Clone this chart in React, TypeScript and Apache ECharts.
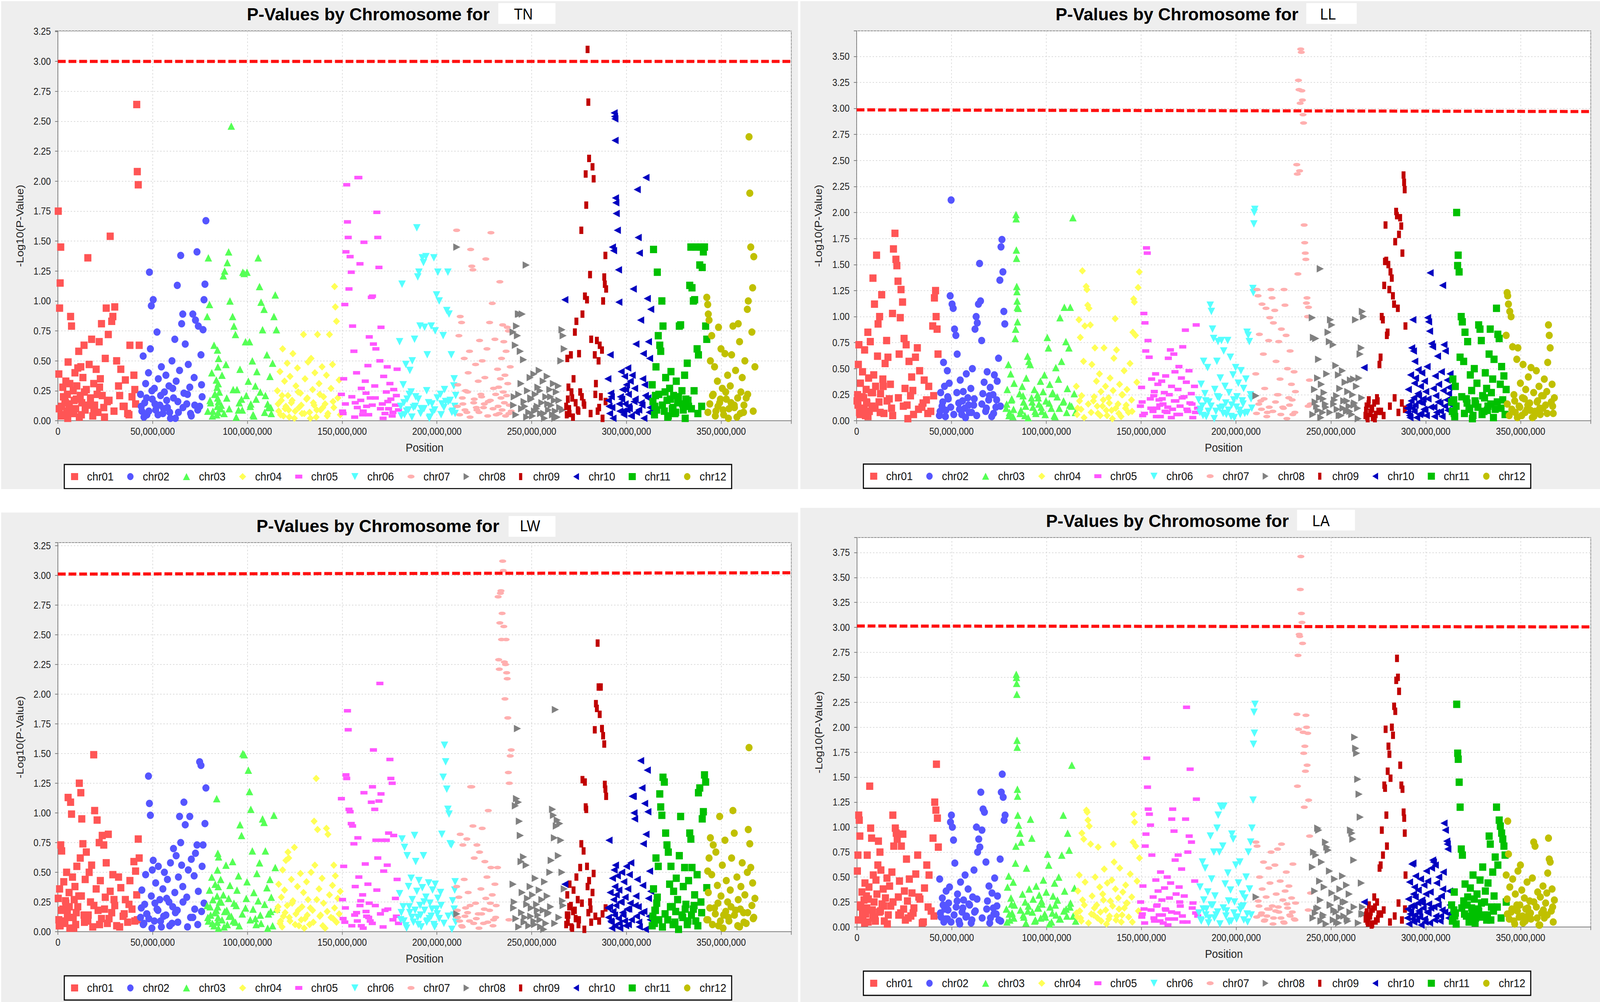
import React, { useEffect, useLayoutEffect, useRef, useState } from 'react';
import * as echarts from 'echarts';

// ---------- categories / styling tables ----------
const CHR_NAMES = ['chr01','chr02','chr03','chr04','chr05','chr06','chr07','chr08','chr09','chr10','chr11','chr12'];
const CHR_COLORS = ['#ff5555','#5555ff','#55ff55','#ffff55','#ff55ff','#55ffff','#ffafaf','#808080','#c00000','#0000c0','#00c000','#c0c000'];
const X_TICK_STEP = 50000000;
const Y_TICK_STEP = 0.25;
const X_MAX = 387000000;
const Y_MAX_TN = 3.255;
const Y_MAX_LL = 3.745;
const Y_MAX_LW = 3.276;
const Y_MAX_LA = 3.90;
// threshold line value at left and right end of the plot
const THR_TN = [3.0, 3.0];
const THR_LL = [2.986, 2.970];
const THR_LW = [3.011, 3.022];
const THR_LA = [3.014, 3.005];

// ---------- marker positions (Mb) per chromosome (signal markers, then background markers) ----------
const POS_CHR01 = [0.2,0.5,0.9,1.2,1.5,2.0,2.6,3.1,3.7,4.2,4.6,5.0,5.4,5.9,6.3,6.7,7.2,7.7,8.1,8.6,9.0,9.4,10.0,10.5,11.0,11.3,11.8,12.1,12.6,13.2,13.8,14.4,15.0,15.8,16.5,17.2,17.8,18.4,18.9,19.4,20.2,20.7,21.2,21.8,22.4,23.0,23.4,24.2,25.0,25.5,26.1,26.6,27.6,28.4,29.0,30.0,31.0,32.0,33.2,34.4,35.6,36.8,38.0,39.1,40.1,41.0,41.6,41.9,42.4,42.9,
  0.7,1.8,2.9,4.0,5.2,6.0,8.4,9.7,12.4,14.0,16.0,19.0,22.0,24.6,27.0,29.6,32.6,35.0,37.5,40.6];
const POS_CHR02 = [43.6,44.3,45.0,45.8,46.3,47.0,47.8,48.3,48.8,49.3,49.8,50.3,50.9,51.6,52.3,53.0,53.8,54.6,55.4,56.2,57.0,57.8,58.6,59.4,60.2,61.0,61.7,62.4,63.0,63.6,64.2,64.8,65.3,65.9,66.5,67.2,68.0,68.8,69.6,70.4,71.2,71.9,72.6,73.4,74.1,74.8,75.5,76.1,76.6,77.1,77.6,78.1,
  44.0,45.4,46.8,48.0,49.6,51.2,52.8,54.2,55.8,57.4,59.0,60.6,62.0,63.3,66.0,68.4,70.0,72.2,73.8,75.8];
const POS_CHR03 = [78.8,79.4,80.0,80.6,81.2,81.8,82.4,83.0,83.6,83.8,84.0,84.1,84.2,84.3,84.4,84.5,84.6,84.7,84.8,85.2,85.9,86.6,87.3,88.0,88.7,89.4,90.1,90.8,91.5,92.2,92.9,93.7,94.5,95.3,96.1,96.9,97.6,98.3,99.0,99.8,100.5,101.1,101.8,102.6,103.4,104.2,105.0,105.7,106.4,107.2,108.0,108.8,109.5,110.3,111.1,111.9,112.6,113.3,114.0,114.7,115.3,
  79.1,80.3,81.5,82.7,86.2,87.7,89.1,90.4,92.5,94.1,95.7,97.3,99.4,101.5,103.0,104.6,106.8,109.1,110.7,112.3];
const POS_CHR04 = [115.8,116.5,117.2,117.9,118.6,119.0,119.6,120.3,121.0,121.4,121.8,122.5,123.2,124.0,124.8,125.6,126.4,127.2,128.0,128.8,129.6,130.4,131.2,132.0,132.8,133.6,134.4,135.2,135.6,136.3,137.0,137.8,138.6,139.4,140.2,141.0,141.7,142.5,143.3,144.1,144.9,145.6,146.0,146.4,147.0,147.7,148.4,149.0,
  116.2,117.5,118.3,119.9,122.1,123.6,125.2,126.8,128.4,130.0,131.6,133.2,134.8,136.6,138.2,139.8,142.1,145.2];
const POS_CHR05 = [149.6,150.2,150.8,151.4,152.0,152.4,152.8,153.2,153.6,154.2,154.8,155.5,156.2,156.9,157.6,158.3,158.8,159.4,160.1,160.8,161.5,162.2,162.9,163.6,164.3,164.8,165.4,166.0,166.5,167.2,167.8,168.3,168.8,169.4,169.9,170.5,171.2,171.9,172.6,173.3,173.8,174.5,175.2,175.7,176.4,177.2,178.1,179.0,179.7,
  150.5,151.7,155.1,156.6,158.0,159.8,161.1,162.6,164.0,165.9,167.5,170.2,171.6,174.1,176.8,178.6];
const POS_CHR06 = [180.3,180.9,181.6,182.2,182.9,183.6,184.3,185.0,185.7,186.4,187.0,187.6,188.2,188.8,189.4,189.9,190.5,191.1,191.7,192.3,192.9,193.5,194.2,194.9,195.6,196.3,197.0,197.7,198.4,199.1,199.8,200.5,201.2,201.9,202.6,203.3,204.0,204.6,205.2,205.8,206.4,207.0,207.6,208.3,208.9,209.1,209.4,209.6,209.9,
  181.2,182.6,184.0,185.4,186.8,188.5,190.2,191.4,193.2,194.6,196.0,197.4,198.8,200.2,202.2,203.7,206.0,207.9];
const POS_CHR07 = [210.4,211.0,211.6,212.3,213.0,213.7,214.4,215.1,215.8,216.5,217.2,217.8,218.4,219.0,219.7,220.4,221.1,221.8,222.5,223.2,223.9,224.6,225.3,225.8,226.4,227.1,227.8,228.5,229.2,229.9,230.6,231.3,232.0,232.3,232.6,232.9,233.2,233.5,233.8,234.1,234.4,234.7,235.0,235.3,235.6,235.9,236.2,236.5,236.8,237.1,237.4,237.7,238.2,238.7,239.2,
  210.8,212.0,213.4,214.8,216.2,217.5,219.4,220.8,222.2,223.6,225.0,226.8,228.2,229.6,231.0,238.0];
const POS_CHR08 = [210.5,240.2,240.8,241.4,242.0,242.5,243.0,243.5,244.0,244.4,245.0,245.7,246.4,247.1,247.8,248.5,249.2,249.8,250.5,251.2,251.9,252.6,253.3,254.0,254.7,255.4,256.1,256.8,257.5,258.2,258.9,259.6,260.3,261.0,261.5,262.0,262.5,263.0,263.5,264.1,264.8,265.4,266.0,266.6,267.2,
  240.5,241.7,243.2,244.7,246.0,247.4,249.5,251.5,253.0,254.4,256.4,258.5,260.0,262.2,264.4,266.3];
const POS_CHR09 = [268.2,268.8,269.4,270.0,270.7,271.4,272.1,272.8,273.6,274.3,275.0,275.6,276.2,276.8,277.4,278.1,278.5,278.8,279.2,279.5,279.9,280.3,280.8,281.4,282.1,282.7,283.3,283.9,284.4,284.8,285.3,285.9,286.5,287.1,287.7,288.3,288.6,288.9,289.3,
  268.5,269.1,269.8,271.0,271.8,273.2,274.7,276.5,277.8,281.1,283.6,285.6,287.4,289.0];
const POS_CHR10 = [267.5,290.2,290.8,291.4,292.0,292.6,293.2,293.5,293.7,293.9,294.0,294.2,294.4,294.6,295.2,295.8,296.0,296.5,297.2,297.5,297.9,298.6,299.0,299.3,300.0,300.3,300.7,301.0,301.5,302.0,302.3,303.0,303.6,304.0,304.3,305.0,305.3,305.7,306.2,306.8,307.5,308.2,308.6,308.9,309.2,309.6,310.3,311.0,311.3,311.6,312.2,312.5,312.8,
  290.5,291.1,291.7,292.3,292.9,296.2,296.8,298.2,299.6,301.2,302.6,304.6,306.5,307.8,310.0,312.0];
const POS_CHR11 = [313.6,314.3,315.0,315.6,316.3,316.8,317.1,317.6,318.1,318.7,319.3,320.0,320.7,321.4,322.1,322.8,323.5,324.2,324.9,325.6,326.3,327.0,327.9,328.6,329.3,330.0,330.7,331.4,332.1,332.8,333.4,334.0,334.6,335.3,336.0,336.6,337.3,338.0,338.7,339.3,340.0,340.6,341.2,341.8,342.4,
  314.0,314.8,315.3,316.0,319.0,320.4,321.8,323.2,324.6,326.0,327.5,329.7,331.0,332.5,334.3,335.7,337.7,339.7];
const POS_CHR12 = [342.4,342.9,343.2,343.6,344.3,345.0,345.8,346.5,347.2,348.0,348.6,349.2,349.9,350.6,351.3,352.0,352.7,353.4,354.1,354.8,355.5,356.2,356.9,357.6,358.3,359.0,359.7,360.4,361.1,361.8,362.5,363.2,363.8,364.3,364.7,365.1,365.6,366.2,366.6,367.2,367.8,
  343.0,344.0,345.4,346.9,348.3,349.6,351.0,352.4,353.8,355.2,357.0,358.7,360.1,362.0,364.0,366.9];

// ---------- -log10(p) values, trait TN ----------
const TN_CHR01 = [1.75,.39,.94,1.15,1.45,.12,.28,.05,.18,.33,.08,.22,.49,.14,.31,.87,.79,.06,.25,.17,.40,.10,.29,.44,.58,.03,.21,.45,.15,.36,.63,.09,.26,1.36,.47,.19,.68,.04,.31,.13,.43,.22,.07,.66,.35,.81,.21,.11,.52,.94,.16,.72,1.54,.83,.87,.95,.50,.29,.43,.12,.34,.06,.63,.20,.38,.14,2.64,2.08,1.97,.63,
  .10,.04,.20,.15,.02,.11,.07,.18,.05,.24,.13,.09,.28,.03,.17,.08,.21,.12,.05,.26];
const TN_CHR02 = [.22,.08,.54,.15,.31,.05,.40,1.24,.60,.96,.18,1.01,.27,.09,.74,.35,.13,.45,.06,.24,.38,.11,.29,.02,.50,.19,.68,.33,1.13,.07,.42,1.38,.81,.89,.23,.64,.14,.47,.28,.04,.89,.36,.84,1.41,.79,.12,.55,.20,.76,1.01,1.14,1.67,
  .12,.03,.19,.08,.25,.14,.05,.21,.10,.17,.07,.27,.02,.16,.11,.22,.06,.13,.09,.30];
const TN_CHR03 = [.87,1.36,.97,.15,.40,.08,.63,.22,.34,.05,.28,.12,.59,.19,.45,.07,.31,.16,.52,.24,.10,.38,1.21,1.25,.47,1.32,1.41,1.00,2.46,.87,.79,.72,.26,.09,.43,.18,1.24,1.23,.66,1.24,.33,.66,.14,.50,.04,.29,.41,1.36,1.12,.99,.76,.93,.21,.55,.11,.37,.06,.48,.87,1.05,.76,
  .08,.17,.04,.22,.13,.06,.19,.10,.26,.03,.15,.09,.21,.12,.05,.18,.24,.07,.14,.11];
const TN_CHR04 = [.25,.08,.41,.17,.60,.04,.33,.12,.48,.21,.09,.37,.15,.56,.02,.29,.44,.11,.23,.06,.72,.35,.18,.49,.07,.52,.26,.13,.40,.03,.72,.31,.09,.45,.20,.14,.38,.06,.72,.27,.47,.11,1.12,.95,.83,.19,.34,.05,
  .14,.05,.21,.10,.03,.17,.08,.24,.13,.06,.19,.02,.15,.09,.22,.11,.04,.16];
const TN_CHR05 = [.22,.08,.35,.97,1.41,1.97,1.66,1.53,1.10,1.37,1.24,.79,.58,.15,.40,2.03,2.03,1.31,.27,.05,1.49,.33,.12,.46,.70,.19,1.03,1.04,.64,.29,.60,1.74,1.53,1.28,.50,.78,.14,.37,.06,.24,.45,.10,.31,.18,.04,.26,.13,.43,.09,
  .06,.14,.20,.03,.11,.17,.08,.23,.05,.13,.19,.10,.02,.16,.07,.21];
const TN_CHR06 = [.66,.12,1.14,.30,.05,.47,.18,.09,.42,.24,.50,.11,.68,.20,1.61,1.20,1.24,.79,.10,1.36,1.32,.78,1.37,.55,.15,.03,.79,.07,1.36,.75,1.05,1.24,1.00,.22,.14,.71,.26,.16,.92,1.24,.89,.17,.55,.08,.29,.35,.12,.06,.21,
  .04,.15,.08,.22,.03,.12,.18,.06,.10,.25,.02,.14,.09,.19,.05,.11,.16,.07];
const TN_CHR07 = [1.59,.30,.71,.87,.82,.14,.52,.25,.07,.40,.58,1.43,1.29,1.26,.18,.47,.09,.33,.67,.22,.50,.11,.36,1.35,.60,.16,.82,1.57,.98,.27,.68,.05,.43,.12,.28,.06,1.16,.35,.19,.52,.09,.80,.24,.66,.15,.38,.04,.58,.21,.78,.31,.75,.13,.45,.08,
  .12,.05,.19,.09,.24,.03,.15,.11,.07,.20,.14,.04,.17,.10,.22,.06];
const TN_CHR08 = [1.45,.74,.20,.63,.79,.71,.89,.89,.58,.31,.89,.51,.12,1.30,.25,.07,.36,.18,.04,.39,.22,.10,.28,.42,.06,.15,.33,.02,.20,.37,.09,.26,.13,.05,.31,.17,.08,.24,.03,.29,.11,.50,.76,.71,.60,
  .13,.05,.22,.10,.16,.03,.19,.08,.12,.25,.06,.14,.20,.02,.17,.09];
const TN_CHR09 = [.12,.52,.28,.06,.55,.19,.35,.74,.83,.09,.56,.24,1.59,.89,.15,1.04,2.06,1.80,1.01,3.10,2.66,2.19,1.22,.68,2.12,2.02,.55,.31,.67,.08,.50,.63,.20,.59,1.00,1.20,1.14,1.38,1.10,
  .05,.18,.10,.24,.03,.15,.08,.20,.13,.06,.22,.11,.02,.16];
const TN_CHR10 = [1.01,.35,.12,.55,.20,1.45,1.42,2.57,2.54,2.52,2.34,1.86,1.82,1.73,1.59,1.26,.99,.08,.41,.18,.26,.05,.37,.14,.30,.09,.44,.22,.10,.33,.04,.38,1.10,.16,.27,.64,.07,1.93,1.53,1.40,.84,.13,.35,.56,.02,.30,2.03,1.02,.19,.66,.52,.11,.93,
  .17,.06,.23,.11,.02,.14,.20,.08,.26,.12,.04,.18,.09,.15,.21,.07];
const TN_CHR11 = [.30,1.43,.12,.45,1.24,.71,.22,.63,.58,1.00,.79,.08,.36,.17,.04,.27,.41,.10,.21,.06,.33,.15,.79,.80,.25,.09,.38,.18,.48,.12,1.13,1.45,1.11,1.00,1.01,1.45,.60,.55,1.30,1.45,1.28,1.41,1.45,.79,.68,
  .16,.05,.21,.09,.13,.24,.03,.18,.11,.07,.20,.14,.02,.17,.10,.25,.06,.12];
const TN_CHR12 = [1.03,.97,.89,.84,.50,.71,.22,.45,.08,.33,.78,.15,.60,.27,.05,.56,.18,.38,.10,.29,.55,.79,.13,.42,.03,.81,.66,.24,.36,.07,.50,.19,.93,1.00,2.37,1.90,1.45,.74,1.11,1.37,.45,
  .07,.14,.21,.04,.12,.18,.09,.24,.02,.15,.11,.19,.06,.13,.22,.08];

// ---------- trait LL ----------
const LL_CHR01 = [.19,.25,.54,.73,.08,.36,.12,.47,.22,.68,.05,.30,.17,.85,.41,.09,.76,.27,.14,1.37,.44,1.12,.33,1.59,.62,.93,.18,1.00,.26,1.21,.40,.07,.55,.77,.61,.21,.35,.12,1.03,1.65,1.80,1.55,1.49,1.34,.64,.99,1.26,1.14,.79,.31,.73,.15,.57,.24,.42,.06,.61,.70,.48,.13,.39,.20,.33,.09,.91,1.18,1.25,1.00,.88,.64,
  .15,.06,.23,.10,.18,.04,.27,.12,.08,.33,.19,.05,.22,.14,.02,.29,.11,.17,.07,.24];
const LL_CHR02 = [.05,.27,.14,.56,.33,.10,.48,.21,.36,1.20,2.12,1.12,1.08,.88,.82,.64,.17,.39,.06,.28,.12,.45,.22,.08,.31,.50,.15,.88,1.00,.94,1.12,1.51,1.15,.77,.26,.37,.09,.47,.20,.32,.04,.25,.44,.13,.38,.60,1.35,1.67,1.74,1.43,1.05,.93,
  .09,.18,.04,.23,.13,.06,.27,.11,.19,.03,.15,.08,.21,.05,.16,.12,.24,.07,.20,.14];
const LL_CHR03 = [.12,.30,.54,.08,.45,.21,.04,.36,.79,.88,1.98,1.94,1.64,1.56,1.29,1.24,1.15,1.09,.95,1.08,.26,.10,.33,.18,.05,.41,.62,.57,.54,.22,.13,.30,.07,.25,.16,.38,.09,.28,.44,.19,.80,.70,.35,.12,.27,.05,.51,.23,.40,.99,.57,.18,1.09,.76,.31,.70,1.09,.14,1.95,.26,.08,
  .16,.05,.20,.11,.07,.24,.14,.03,.18,.09,.22,.13,.06,.17,.26,.04,.12,.19,.08,.15];
const LL_CHR04 = [.33,.12,.97,.80,.24,1.44,.57,.91,1.29,1.26,1.11,1.08,.92,.54,.19,.70,.38,.07,.45,.28,.14,.70,.33,.05,.22,.41,.10,.29,.60,.98,.68,.16,.35,.04,.25,.48,.12,.30,.08,.55,.20,.85,1.17,1.14,.82,.37,1.28,1.43,
  .06,.19,.11,.03,.16,.08,.23,.14,.05,.20,.10,.17,.02,.12,.07,.25,.15,.09];
const LL_CHR05 = [.14,.32,.05,1.03,.94,.67,1.66,1.61,.77,.61,.21,.40,.09,.28,.45,.12,.35,.20,.04,.38,.16,.27,.43,.08,.60,.25,.68,.33,.11,.64,.47,.19,.06,.30,.52,.14,.41,.71,.23,.87,.37,.09,.48,.17,.26,.03,.33,.92,.12,
  .18,.07,.12,.24,.04,.15,.21,.09,.13,.03,.19,.06,.22,.11,.16,.08];
const LL_CHR06 = [.20,.08,.35,.14,.57,.26,.04,.51,.18,1.11,1.05,.88,.79,.30,.09,.57,.76,.22,.41,.77,.13,.67,.33,.06,.77,.27,.61,.15,.44,.03,.51,.23,.36,.10,.48,.19,.31,.07,.40,.85,.82,.76,.25,.12,1.27,1.23,1.89,2.00,2.03,
  .11,.05,.19,.09,.14,.02,.23,.12,.07,.17,.10,.04,.20,.13,.06,.16,.08,.21];
const LL_CHR07 = [.45,1.26,1.20,.83,.19,1.12,.64,.31,1.08,.08,.77,.99,1.26,1.18,.94,1.06,.57,.25,.76,.40,.88,.13,1.26,1.11,.82,.50,.22,.67,.35,.06,.47,.28,2.46,2.37,1.41,3.27,3.18,2.40,3.05,3.57,3.54,3.17,3.08,2.94,2.86,1.88,1.71,1.61,1.55,1.13,1.18,1.00,1.09,.39,.16,
  .07,.16,.11,.21,.04,.13,.09,.18,.25,.06,.12,.02,.15,.20,.08,.14];
const LL_CHR08 = [.24,.99,.80,.30,.79,.14,.41,.59,.22,1.46,.35,.08,.27,.16,.45,.85,.76,.97,.92,.73,.20,.53,.11,.44,.31,.05,.48,.19,.37,.09,.28,.14,.39,.06,.25,.40,.17,.97,.33,.12,.41,.64,.70,1.05,1.00,
  .06,.18,.10,.03,.21,.13,.08,.16,.24,.05,.12,.19,.09,.15,.02,.22];
const LL_CHR09 = [.05,.14,.02,.20,.08,.11,.03,.17,.06,.22,.09,.54,.61,1.00,.97,1.30,1.53,1.88,1.54,.82,.85,1.50,1.26,1.43,1.37,1.20,1.12,1.72,2.01,1.97,1.08,1.79,1.95,1.87,1.61,2.36,2.29,2.22,.91,
  .10,.04,.16,.07,.12,.02,.19,.09,.05,.14,.22,.08,.17,.11];
const LL_CHR10 = [.51,.12,.30,.05,.44,.70,.97,.67,.22,.09,.36,.57,.15,.41,.03,.26,.49,.18,.33,.07,.46,.21,.11,.38,.28,.05,.52,.99,.95,.86,1.42,.74,.71,.31,.13,.43,.24,.08,.62,.35,.17,.47,.04,1.30,.29,.73,.67,.20,.39,.10,.32,.16,.45,
  .08,.15,.03,.19,.12,.24,.06,.17,.10,.21,.13,.04,.18,.09,.14,.26];
const LL_CHR11 = [.18,.40,.07,.33,2.00,1.49,1.59,1.43,.61,1.00,.95,.57,.85,.21,.76,.12,.44,.29,.05,.50,.16,.36,.92,.88,.77,.24,.09,.46,.31,.14,.64,.88,.27,.40,.59,.11,1.08,.83,.79,.35,.52,.20,.43,.06,.30,
  .09,.20,.04,.14,.23,.07,.17,.11,.02,.19,.13,.06,.22,.10,.16,.03,.18,.12];
const LL_CHR12 = [.82,1.23,1.20,1.12,1.05,1.00,.71,.25,.08,.59,.70,.14,.36,.05,.54,.21,.30,.11,.42,.17,.51,.03,.27,.09,.48,.19,.33,.06,.24,.12,.40,.15,.28,.56,.92,.82,.70,.18,.35,.07,.22,
  .16,.05,.11,.19,.03,.13,.22,.08,.15,.10,.04,.18,.12,.24,.07,.14];

// ---------- trait LW ----------
const LW_CHR01 = [.28,.10,.36,.05,.73,.68,.19,.42,.07,.24,.50,.15,1.13,.33,.03,1.09,.99,.46,.12,.27,.38,.06,.55,.21,.30,1.25,.62,1.17,.95,.74,.14,.44,.67,.09,.50,.25,.56,.04,1.49,1.02,.36,.94,.18,.75,.43,.11,.81,.73,.29,.58,.07,.82,.34,.16,.48,.22,.05,.46,.37,.13,.27,.08,.43,.19,.59,.51,.31,.10,.78,.62,
  .05,.18,.09,.26,.12,.21,.03,.16,.30,.08,.14,.22,.06,.19,.11,.27,.04,.15,.23,.09];
const LW_CHR02 = [.12,.35,.06,.23,.48,.15,1.31,1.08,.98,.30,.52,.60,.09,.41,.19,.55,.27,.04,.36,.50,.14,.44,.25,.58,.07,.70,.33,.64,.18,.46,.97,.75,.56,.38,1.09,.90,.29,.52,.97,.61,.12,.47,.66,.73,.34,1.43,1.40,.55,.73,.24,.91,1.21,
  .20,.07,.15,.11,.03,.24,.18,.09,.13,.28,.05,.21,.16,.08,.25,.04,.12,.19,.06,.17];
const LW_CHR03 = [.22,.09,.35,.14,.46,.27,.05,.40,.18,1.12,.30,.08,.52,.21,.66,.12,.38,.03,.63,.25,.44,.10,.31,.17,.56,.06,.28,.39,.13,.59,.24,.08,.35,.47,.90,.81,1.50,1.49,.20,.42,1.36,1.18,1.03,.68,.33,.11,.49,.26,.58,.07,.95,.92,.68,.37,.15,.44,.29,.05,.98,.54,.19,
  .12,.21,.07,.16,.25,.04,.18,.13,.09,.22,.05,.15,.28,.10,.19,.06,.14,.23,.03,.17];
const LW_CHR04 = [.18,.40,.07,.29,.52,.13,.35,.60,.22,.67,.62,.09,.44,.26,.71,.15,.38,.05,.49,.21,.33,.11,.42,.27,.06,.50,.18,.93,.56,1.29,.86,.36,.14,.45,.24,.03,.87,.82,.31,.12,.39,.56,.20,.47,.08,.28,.15,.34,
  .21,.09,.04,.16,.12,.24,.06,.18,.10,.03,.14,.20,.08,.27,.13,.05,.17,.11];
const LW_CHR05 = [1.12,.27,.55,.08,1.32,1.29,1.86,1.70,1.03,1.01,.91,.89,.74,.38,.16,.79,.46,.22,.05,.31,1.17,.57,.13,.40,.24,.09,1.09,1.22,1.53,1.03,.77,.35,.62,1.10,2.09,1.16,.77,.51,.18,.77,.56,.83,1.45,1.29,1.25,.81,.28,.44,.07,
  .11,.20,.05,.14,.09,.26,.03,.17,.12,.07,.22,.15,.04,.19,.10,.13];
const LW_CHR06 = [.32,.10,.78,.21,.71,.05,.64,.38,.16,.45,.27,.08,.81,.59,.34,.12,.43,.22,.04,.37,.64,.18,.29,.09,.41,.24,.13,.35,.06,.40,.19,.28,.11,.33,.82,1.30,1.57,1.43,1.20,1.03,.99,.74,.73,.26,.14,.19,.35,.42,.08,
  .16,.09,.03,.21,.12,.18,.06,.14,.25,.08,.11,.19,.04,.15,.22,.07,.13,.02];
const LW_CHR07 = [.38,.12,.29,.82,.05,.73,.44,.20,.78,.33,.09,1.22,1.22,.89,.62,.24,.73,.15,.67,.36,.87,.07,.59,.28,.46,1.02,.18,.54,.31,.10,.40,.22,.54,2.82,2.29,2.21,2.60,2.85,2.87,2.46,2.68,3.12,3.04,2.57,2.27,1.96,2.25,2.46,2.18,2.13,1.80,1.34,1.25,1.48,1.53,
  .18,.09,.04,.13,.16,.22,.07,.11,.03,.15,.19,.08,.24,.05,.12,.10];
const LW_CHR08 = [.15,.40,.25,1.06,1.12,1.71,1.09,.93,.81,.59,.33,.63,.12,.56,.28,.05,.38,.20,.31,.09,.45,.23,.14,.35,.04,.27,.18,.42,.07,.30,.16,.50,.60,1.03,.98,.79,1.87,.89,.94,.64,.91,.77,.50,.22,.36,
  .20,.11,.04,.16,.08,.23,.13,.06,.18,.10,.02,.15,.21,.07,.12,.26];
const LW_CHR09 = [.06,.31,.14,.40,.22,.03,.35,.18,.46,.27,.10,.54,.74,1.28,.68,1.26,1.05,1.03,.55,.38,.16,.43,.25,.08,.33,.49,1.70,1.92,1.88,2.43,2.06,1.83,2.06,1.71,1.65,1.58,1.24,1.20,1.14,
  .14,.08,.21,.04,.17,.11,.06,.24,.02,.19,.13,.09,.15,.20];
const LW_CHR10 = [.40,.20,.77,.33,.08,.45,.27,.52,.14,.38,.05,.56,.22,.31,.47,.11,.35,.03,.25,.50,.16,.42,.09,.29,.55,.19,.36,.06,.48,.24,.58,1.14,1.14,1.00,.95,.30,.13,.44,.21,.04,1.44,1.21,.39,.74,.17,1.08,.82,1.36,1.01,.28,.51,.10,.34,
  .12,.21,.09,.03,.17,.07,.25,.14,.05,.19,.10,.22,.08,.16,.02,.13];
const LW_CHR11 = [.05,.36,.18,.62,.29,.55,.10,1.16,1.05,.98,1.30,1.26,.83,.73,.67,.40,.55,.21,.34,.08,.45,.27,.64,.97,.14,.38,.54,.23,.06,.43,.83,.78,.54,.19,.31,.09,.48,1.17,1.21,.25,.95,1.01,1.32,1.26,.37,
  .13,.07,.18,.24,.04,.15,.10,.21,.06,.17,.02,.12,.19,.09,.14,.22,.05,.16];
const LW_CHR12 = [.10,.51,.33,.62,.79,.48,.73,.20,.67,.39,.05,.97,.30,.56,.14,.77,.43,.25,.09,.35,.62,1.02,.83,.18,.46,.27,.04,.38,.58,.16,.31,.07,.50,.86,1.55,.74,.54,.22,.41,.12,.28,
  .10,.20,.06,.15,.24,.09,.03,.17,.12,.21,.14,.05,.19,.08,.16,.11];

// ---------- trait LA ----------
const LA_CHR01 = [.56,.72,1.12,1.07,.91,.20,.35,.08,.27,.44,.13,.31,.72,.05,.40,1.41,.99,.89,.17,.52,.25,.09,.47,.33,.62,.86,.15,.75,.57,.23,.38,.06,.29,.49,.12,.41,.21,.55,1.12,.81,.99,.94,.88,.30,.46,.14,.81,.93,.36,.07,.68,.26,.48,.11,.34,.19,.53,.72,.28,.04,.39,.62,.52,.16,.89,1.25,1.17,1.63,1.09,.80,
  .07,.22,.13,.04,.19,.28,.10,.06,.16,.21,.03,.25,.12,.18,.09,.14,.30,.05,.20,.11];
const LA_CHR02 = [.48,.10,.29,.05,.18,.36,.08,.24,.40,1.05,1.12,1.00,.87,.64,.20,.33,.06,.45,.15,.27,.52,.11,.38,.22,.04,.30,.57,.16,1.00,.75,.88,.80,1.35,.97,1.18,1.15,.65,.26,.41,.09,.34,.19,.49,.13,.31,.07,.68,1.35,1.53,1.30,1.07,1.12,
  .14,.22,.08,.17,.05,.12,.26,.03,.19,.10,.23,.07,.15,.28,.09,.18,.04,.13,.21,.06];
const LA_CHR03 = [.18,.40,.51,.07,.29,.14,.45,.22,.64,.81,2.53,2.50,2.44,2.33,1.87,1.80,1.38,1.31,1.12,1.02,.94,.85,.33,.10,.25,.59,.16,.38,1.08,.89,.28,.06,.41,.19,.32,.09,.23,.47,.13,.35,.73,.62,.20,.05,.31,.44,.12,.27,.50,.08,.72,1.12,.36,.18,.94,.77,.24,1.62,.11,.39,.06,
  .05,.13,.23,.09,.17,.12,.04,.21,.15,.07,.19,.26,.10,.03,.14,.22,.08,.16,.11,.20];
const LA_CHR04 = [.14,.36,.52,.09,.94,.27,.88,.45,1.17,1.15,1.07,1.01,.83,.31,.12,.50,.22,.80,.40,.06,.33,.58,.17,.44,.08,.26,.47,.83,.65,.38,.11,.29,.59,.05,.35,.19,.42,.24,.10,.53,.30,.85,1.13,1.05,.81,.46,.16,.69,
  .10,.16,.06,.22,.04,.13,.19,.09,.15,.27,.03,.11,.21,.07,.18,.12,.24,.05];
const LA_CHR05 = [.25,.10,.41,.18,.81,.93,1.69,1.40,1.18,1.13,1.02,.72,.30,.06,.47,.22,.36,.12,.55,.27,.04,.39,.17,.50,.08,.29,.44,1.08,1.18,.96,.67,.33,.14,.72,.40,.21,.58,.05,.31,1.08,2.20,.75,.91,1.58,.85,.24,.46,1.28,.11,
  .13,.04,.17,.09,.21,.06,.12,.18,.02,.15,.08,.25,.11,.05,.19,.14];
const LA_CHR06 = [.14,.40,.06,.65,.27,.59,.18,.35,.09,.91,.48,.22,.75,.31,.12,.99,1.12,.75,1.21,1.20,.81,1.21,.43,.16,.54,.05,.37,.93,.88,.25,.62,.10,.44,.65,.20,.33,.07,.29,.50,.13,.75,.38,.85,.99,1.27,1.83,2.15,1.94,2.23,
  .07,.18,.12,.04,.22,.09,.15,.03,.19,.11,.26,.06,.14,.08,.17,.21,.05,.12];
const LA_CHR07 = [.85,.81,.26,.50,.12,.38,.65,.07,.30,.18,.59,.44,.75,.21,.09,.62,.33,.78,.15,.46,.83,.27,.04,.36,.55,.19,.41,.11,.29,.63,.08,.24,2.13,1.41,2.72,1.98,2.93,2.91,3.38,3.71,3.14,3.05,2.84,1.95,1.74,1.20,1.81,1.56,2.12,2.00,1.62,1.94,1.27,.91,.34,
  .10,.21,.14,.06,.11,.18,.03,.16,.20,.09,.05,.23,.12,.15,.07,.17];
const LA_CHR08 = [.30,.60,.75,.36,.72,.18,.99,.97,.46,.27,.65,.10,.40,.85,.80,.77,.56,.22,.34,.07,.48,.15,.29,.04,.38,.19,.51,.11,.25,.42,.06,.33,.97,.94,.88,.67,1.90,1.79,1.74,1.48,1.33,1.10,.44,.20,.13,
  .09,.14,.19,.06,.12,.03,.22,.17,.05,.10,.25,.08,.15,.20,.04,.13];
const LA_CHR09 = [.08,.15,.04,.22,.11,.02,.18,.30,.06,.25,.13,.59,.62,.97,.72,1.42,1.39,1.98,1.12,.81,1.56,1.81,1.73,1.49,2.00,1.92,2.21,2.16,2.47,2.69,2.50,2.36,1.62,1.42,1.38,1.15,1.09,.94,.52,
  .12,.06,.09,.15,.03,.20,.08,.13,.17,.05,.11,.24,.07,.18];
const LA_CHR10 = [.25,.09,.28,.45,.16,.63,.64,.33,.05,.21,.40,.12,.30,.51,.07,.24,.37,.14,.48,.02,.27,.19,.42,.08,.33,.56,.15,.46,.23,.04,.35,.59,.67,.65,.20,.62,.11,.44,.28,.50,.06,.31,.17,.38,.55,1.04,.97,.86,.83,.78,.13,.36,.22,
  .18,.03,.13,.21,.08,.16,.10,.24,.05,.14,.19,.07,.22,.11,.15,.09];
const LA_CHR11 = [.22,.08,.35,.14,2.23,1.74,1.68,1.45,1.20,.78,.72,.26,.43,.11,.30,.05,.39,.19,.52,.28,.09,.33,.16,.47,.24,.60,.12,.36,.07,.44,.91,.83,.20,.55,.31,.70,1.20,.62,1.07,1.01,.94,.88,.81,.72,.25,
  .06,.17,.11,.03,.19,.13,.22,.08,.15,.04,.18,.10,.25,.12,.07,.16,.20,.09];
const LA_CHR12 = [.52,.28,1.06,.73,.40,.15,.48,.06,.33,.22,.56,.10,.62,.37,.04,.29,.18,.45,.12,.26,.08,.49,.85,.81,.20,.35,.02,.30,.14,.41,.09,.24,.34,.54,.89,.68,.65,.16,.38,.05,.27,
  .13,.08,.18,.03,.16,.22,.11,.06,.19,.14,.25,.09,.02,.17,.12,.20];

const POSITIONS = [POS_CHR01,POS_CHR02,POS_CHR03,POS_CHR04,POS_CHR05,POS_CHR06,POS_CHR07,POS_CHR08,POS_CHR09,POS_CHR10,POS_CHR11,POS_CHR12];
const TN_VALUES = [TN_CHR01,TN_CHR02,TN_CHR03,TN_CHR04,TN_CHR05,TN_CHR06,TN_CHR07,TN_CHR08,TN_CHR09,TN_CHR10,TN_CHR11,TN_CHR12];
const LL_VALUES = [LL_CHR01,LL_CHR02,LL_CHR03,LL_CHR04,LL_CHR05,LL_CHR06,LL_CHR07,LL_CHR08,LL_CHR09,LL_CHR10,LL_CHR11,LL_CHR12];
const LW_VALUES = [LW_CHR01,LW_CHR02,LW_CHR03,LW_CHR04,LW_CHR05,LW_CHR06,LW_CHR07,LW_CHR08,LW_CHR09,LW_CHR10,LW_CHR11,LW_CHR12];
const LA_VALUES = [LA_CHR01,LA_CHR02,LA_CHR03,LA_CHR04,LA_CHR05,LA_CHR06,LA_CHR07,LA_CHR08,LA_CHR09,LA_CHR10,LA_CHR11,LA_CHR12];

// ---------- marker shapes (JFreeChart default sequence) ----------
const SYMBOLS = ['rect','circle','triangle','diamond','rect','path://M0,0L20,0L10,20Z','circle','path://M0,0L20,10L0,20Z','rect','path://M20,0L0,10L20,20Z','rect','circle'];
const SYMBOL_SIZES = [[20,19],[20,19],[21,19],[20,19],[20,9],[21,19],[20,9],[20,19],[11,19],[20,19],[20,19],[20,19]];
const LEGEND_ICONS = ['rect','circle','triangle','diamond','path://M0,0h20v10h-20z','path://M0,0L20,0L10,18Z','path://M0,5a10,5 0 1,0 20,0a10,5 0 1,0 -20,0z','path://M0,0L18,10L0,20Z','path://M0,0h9v18h-9z','path://M18,0L0,10L18,20Z','rect','circle'];

const FONT = '"Liberation Sans", Arial, Helvetica, sans-serif';
const PAGE_W = 4505;
const PAGE_H = 2565;

// ---------- panel layout ----------
const PANELS = [
  { trait: 'TN', values: TN_VALUES, yMax: Y_MAX_TN, thr: THR_TN, left: 3, top: 3, width: 2244, height: 1249,
    grid: { left: 160, top: 76, width: 2065, height: 998 }, legendTop: 1186,
    titleX: 692, titleY: 33, box: [1400, 5, 161, 53], labelX: 1444 },
  { trait: 'LL', values: LL_VALUES, yMax: Y_MAX_LL, thr: THR_LL, left: 2253, top: 3, width: 2252, height: 1249,
    grid: { left: 159, top: 76, width: 2067, height: 998 }, legendTop: 1185,
    titleX: 719, titleY: 33, box: [1425, 5, 142, 53], labelX: 1464 },
  { trait: 'LW', values: LW_VALUES, yMax: Y_MAX_LW, thr: THR_LW, left: 3, top: 1312, width: 2244, height: 1253,
    grid: { left: 160, top: 77, width: 2065, height: 996 }, legendTop: 1186,
    titleX: 719, titleY: 34, box: [1429, 9, 132, 53], labelX: 1461 },
  { trait: 'LA', values: LA_VALUES, yMax: Y_MAX_LA, thr: THR_LA, left: 2253, top: 1300, width: 2252, height: 1265,
    grid: { left: 160, top: 76, width: 2066, height: 997 }, legendTop: 1186,
    titleX: 692, titleY: 33, box: [1399, 5, 163, 53], labelX: 1442 },
];

function withCommas(v: number) {
  return String(Math.round(v)).replace(/\B(?=(\d{3})+(?!\d))/g, ',');
}

function buildOption(cfg: any) {
  const scatter = CHR_NAMES.map((name, i) => {
    const pos = POSITIONS[i];
    const vals = cfg.values[i];
    const n = Math.min(pos.length, vals.length);
    const data: number[][] = [];
    for (let j = 0; j < n; j++) data.push([pos[j] * 1e6, vals[j]]);
    return {
      type: 'scatter', name, data,
      symbol: SYMBOLS[i], symbolSize: SYMBOL_SIZES[i],
      itemStyle: { color: CHR_COLORS[i], opacity: 1 },
      silent: true, z: 2,
    };
  });
  const threshold = {
    type: 'line', name: 'threshold', data: [[0, cfg.thr[0]], [X_MAX, cfg.thr[1]]],
    symbol: 'none', silent: true, z: 5,
    lineStyle: { color: '#ff1010', width: 8, type: [22, 8] },
  };
  const axisLineStyle = { color: '#808080', width: 2 };
  const splitStyle = { color: '#cfcfcf', width: 1.5, type: [4, 5] };
  return {
    animation: false,
    backgroundColor: '#eeeeee',
    textStyle: { fontFamily: FONT },
    grid: { ...cfg.grid, show: true, backgroundColor: '#ffffff', borderColor: '#8a8a8a', borderWidth: 2, containLabel: false },
    xAxis: {
      type: 'value', min: 0, max: X_MAX, interval: X_TICK_STEP,
      name: 'Position', nameLocation: 'middle', nameGap: 54,
      nameTextStyle: { fontSize: 30, color: '#222', fontFamily: FONT },
      axisLine: { show: true, onZero: false, lineStyle: axisLineStyle },
      axisTick: { show: true, length: 8, lineStyle: axisLineStyle },
      axisLabel: {
        fontSize: 25, margin: 15, color: '#222', fontFamily: FONT,
        formatter: (v: number) => (Math.abs(v / X_TICK_STEP - Math.round(v / X_TICK_STEP)) < 1e-6 ? (v === 0 ? '0' : withCommas(v)) : ''),
      },
      splitLine: { show: true, lineStyle: splitStyle },
    },
    yAxis: {
      type: 'value', min: 0, max: cfg.yMax, interval: Y_TICK_STEP,
      name: '-Log10(P-Value)', nameLocation: 'middle', nameGap: 93, nameRotate: 90,
      nameTextStyle: { fontSize: 29, color: '#222', fontFamily: FONT },
      axisLine: { show: true, onZero: false, lineStyle: axisLineStyle },
      axisTick: { show: true, length: 8, lineStyle: axisLineStyle },
      axisLabel: {
        fontSize: 25, margin: 20, color: '#222', fontFamily: FONT,
        formatter: (v: number) => (Math.abs(v / Y_TICK_STEP - Math.round(v / Y_TICK_STEP)) < 1e-6 ? v.toFixed(2) : ''),
      },
      splitLine: { show: true, lineStyle: splitStyle },
    },
    legend: {
      show: true, left: 178, top: cfg.legendTop, orient: 'horizontal',
      data: CHR_NAMES.map((n, i) => ({ name: n, icon: LEGEND_ICONS[i] })),
      itemWidth: 20, itemHeight: 18, itemGap: 38, symbolKeepAspect: true,
      selectedMode: false,
      padding: [16, 15, 16, 19],
      backgroundColor: '#ffffff', borderColor: '#000000', borderWidth: 3,
      textStyle: { fontSize: 30, color: '#111', fontFamily: FONT, lineHeight: 28, padding: [0, 0, 0, 20] },
    },
    graphic: [
      {
        type: 'text', x: cfg.titleX, y: cfg.titleY, scaleX: 1.09, silent: true,
        style: { text: 'P-Values by Chromosome for', font: `bold 45px ${FONT}`, fill: '#000', align: 'left', verticalAlign: 'middle' },
      },
      {
        type: 'rect', silent: true,
        shape: { x: cfg.box[0], y: cfg.box[1], width: cfg.box[2], height: cfg.box[3] },
        style: { fill: '#ffffff' },
      },
      {
        type: 'text', x: cfg.labelX, y: cfg.titleY, silent: true, z: 10,
        style: { text: cfg.trait, font: `40px ${FONT}`, fill: '#000', align: 'left', verticalAlign: 'middle' },
      },
    ],
    series: [...scatter, threshold],
  };
}

function Panel({ cfg }: { cfg: any }) {
  const ref = useRef<HTMLDivElement | null>(null);
  useEffect(() => {
    if (!ref.current) return;
    const chart = echarts.init(ref.current, null, { renderer: 'svg', width: cfg.width, height: cfg.height });
    chart.setOption(buildOption(cfg) as any);
    return () => chart.dispose();
  }, [cfg]);
  return (
    <div
      ref={ref}
      style={{ position: 'absolute', left: cfg.left, top: cfg.top, width: cfg.width, height: cfg.height }}
    />
  );
}

// the drawing is laid out on a 4505 x 2565 canvas and stretched to fill the viewport
function fitScale() {
  if (typeof window === 'undefined') return [1, 1];
  const sx = window.innerWidth / PAGE_W;
  const sy = window.innerHeight / PAGE_H;
  return [sx > 0 ? sx : 1, sy > 0 ? sy : 1];
}

export default function App() {
  const [scale, setScale] = useState(fitScale());
  useLayoutEffect(() => {
    const f = () => setScale(fitScale());
    f();
    window.addEventListener('resize', f);
    return () => window.removeEventListener('resize', f);
  }, []);
  return (
    <div style={{ position: 'fixed', left: 0, top: 0, right: 0, bottom: 0, overflow: 'hidden', background: '#ffffff' }}>
      <div
        style={{
          position: 'absolute', left: 0, top: 0, width: PAGE_W, height: PAGE_H,
          transform: `scale(${scale[0]}, ${scale[1]})`, transformOrigin: '0 0', background: '#ffffff',
        }}
      >
        {PANELS.map((p) => (
          <Panel key={p.trait} cfg={p} />
        ))}
      </div>
    </div>
  );
}
